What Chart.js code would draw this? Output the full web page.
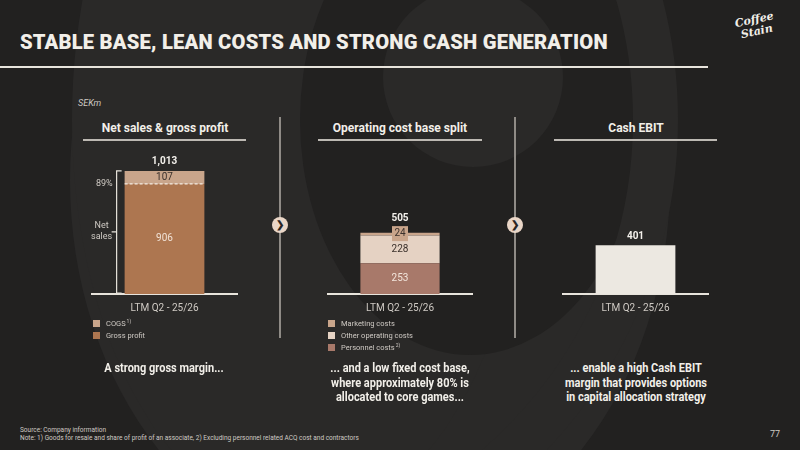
<!DOCTYPE html>
<html lang="en">
<head>
<meta charset="UTF-8">
<title>Stable base, lean costs and strong cash generation</title>
<script src="https://cdn.jsdelivr.net/npm/chart.js"></script>
<style>
  body { margin:0; width:800px; height:450px; overflow:hidden; background:#222120; position:relative;
         font-family: Roboto, 'Liberation Sans', sans-serif; color:#f2efe9; }
  .abs { position:absolute; }
  .deco { position:absolute; border-radius:50%; box-sizing:border-box; }
  #title { left:20px; top:30px; font-size:20px; font-weight:900; white-space:nowrap; transform-origin:left center; letter-spacing:0.2px; }
  .rule { position:absolute; background:#e8e4dc; }
  .head { position:absolute; width:200px; text-align:center; font-size:12px; font-weight:bold; top:121px; }
  .vsep { position:absolute; width:2px; background:#8f8b86; top:117px; height:221px; }
  .arrow { position:absolute; width:16px; height:16px; border-radius:50%; background:#ead6c7; color:#2a2523;
           font-size:10px; font-weight:bold; line-height:16px; text-align:center; }
  .legend { position:absolute; font-size:7.5px; color:#cfcac4; }
  .legend div { height:12px; line-height:12px; white-space:nowrap; }
  .legend span { display:inline-block; width:7px; height:7px; margin-right:6px; vertical-align:-1px; }
  .legend i { font-style:normal; font-size:5px; position:relative; top:-3px; margin-left:1px; }
  .caption { position:absolute; width:220px; text-align:center; font-weight:bold; font-size:12.5px; line-height:14.5px;
             top:361px; transform:scaleX(0.88); }
  canvas { position:absolute; }
</style>
</head>
<body>
  <!-- faint background artwork -->
  <div class="deco" style="left:70px; top:-200px; width:600px; height:760px; background:#2a2928;"></div>
  <div class="deco" style="left:72px; top:-280px; width:456px; height:800px; background:#2a2928;"></div>
  <div class="deco" style="left:300px; top:-115px; width:340px; height:470px; background:#222120;"></div>
  <div class="deco" style="left:383px; top:-13px; width:180px; height:180px; background:#2a2928;"></div>
  <div class="deco" style="left:-284px; top:-361px; width:962px; height:962px; border:45px solid #2a2928;"></div>

  <div id="title" class="abs">STABLE BASE, LEAN COSTS AND STRONG CASH GENERATION</div>
  <div class="rule" style="left:0; top:66px; width:708px; height:2px;"></div>
  <div class="abs" style="left:736px; top:14px; transform:rotate(-12deg); font-family:'DejaVu Serif', serif; font-style:italic; font-weight:bold; font-size:11px; line-height:12px; color:#f2efe9; text-align:center;">Coffee<br>Stain</div>

  <div class="abs" style="left:78px; top:98px; font-size:9px; font-style:italic; color:#cfcac4;">SEKm</div>

  <div class="head" style="left:65px;">Net sales &amp; gross profit</div>
  <div class="head" style="left:300px;">Operating cost base split</div>
  <div class="head" style="left:536px;">Cash EBIT</div>
  <div class="rule" style="left:83px; top:139px; width:163px; height:2px; background:#bdb9b3;"></div>
  <div class="rule" style="left:318px; top:139px; width:164px; height:2px; background:#bdb9b3;"></div>
  <div class="rule" style="left:554px; top:139px; width:163px; height:2px; background:#bdb9b3;"></div>

  <div class="vsep" style="left:279px;"></div>
  <div class="vsep" style="left:514px;"></div>
  <div class="arrow" style="left:272px; top:217px;">&#10095;</div>
  <div class="arrow" style="left:507px; top:217px;">&#10095;</div>

  <canvas id="salesChart" width="210" height="177" style="left:60px; top:150px;"></canvas>
  <canvas id="opexChart" width="200" height="177" style="left:300px; top:150px;"></canvas>
  <canvas id="ebitChart" width="190" height="177" style="left:540px; top:150px;"></canvas>

  <div class="legend" style="left:93px; top:318px;">
    <div><span style="background:#c9a58b"></span>COGS<i>1)</i></div>
    <div><span style="background:#ad7650"></span>Gross profit</div>
  </div>
  <div class="legend" style="left:328px; top:318px;">
    <div><span style="background:#c9a58b"></span>Marketing costs</div>
    <div><span style="background:#e5d2c3"></span>Other operating costs</div>
    <div><span style="background:#a8796a"></span>Personnel costs<i>2)</i></div>
  </div>

  <div class="caption" style="left:54px;">A strong gross margin...</div>
  <div class="caption" style="left:290px;">... and a low fixed cost base,<br>where approximately 80% is<br>allocated to core games...</div>
  <div class="caption" style="left:526px;">... enable a high Cash EBIT<br>margin that provides options<br>in capital allocation strategy</div>

  <div class="abs" style="left:20px; top:426px; font-size:6.5px; line-height:8px; color:#cfcac4;">
    Source: Company information<br>Note: 1) Goods for resale and share of profit of an associate, 2) Excluding personnel related ACQ cost and contractors
  </div>
  <div class="abs" style="left:770px; top:429px; font-size:9px; color:#cfcac4;">77</div>

<script>
  const category = ['LTM Q2 - 25/26'];

  const grossProfit = [906];
  const cogs = [107];
  const netSales = [1013];
  const grossMargin = ['89%'];

  const personnelCosts = [253];
  const otherOpex = [228];
  const marketingCosts = [24];
  const opexTotal = [505];

  const cashEbit = [401];

  const yMax = 1185;

  // draws the numbers inside / above the bars
  const valueLabels = {
    id: 'valueLabels',
    afterDatasetsDraw(chart, args, opts) {
      const ctx = chart.ctx;
      ctx.save();
      ctx.textAlign = 'center';
      ctx.textBaseline = 'middle';
      chart.data.datasets.forEach((ds, i) => {
        if (!ds.valueColor) return;
        chart.getDatasetMeta(i).data.forEach((bar, j) => {
          ctx.font = '10px Roboto';
          let y = (bar.y + bar.base) / 2;
          if (ds.boxLabel) {
            y = bar.y + 1;
            ctx.fillStyle = ds.backgroundColor;
            ctx.fillRect(bar.x - 8, y - 7.5, 16, 15);
          }
          ctx.fillStyle = ds.valueColor;
          ctx.fillText(ds.data[j].toLocaleString('en-US'), bar.x, y);
        });
      });
      if (opts.totals) {
        const bar = chart.getDatasetMeta(0).data[0];
        const y = chart.scales.y.getPixelForValue(opts.totals[0]);
        ctx.font = 'bold 10px Roboto';
        ctx.fillStyle = '#f4f1ec';
        ctx.fillText(opts.totals[0].toLocaleString('en-US'), bar.x, y - (opts.totalOffset || 9));
      }
      ctx.restore();
    }
  };

  // bracket, dashed margin line and its labels on the first chart
  const marginBracket = {
    id: 'marginBracket',
    afterDatasetsDraw(chart, args, opts) {
      if (!opts.enabled) return;
      const ctx = chart.ctx;
      const y = chart.scales.y;
      const bar = chart.getDatasetMeta(0).data[0];
      const left = bar.x - bar.width / 2;
      const right = bar.x + bar.width / 2;
      const top = y.getPixelForValue(netSales[0]);
      const bottom = y.getPixelForValue(0) - 1;
      const split = y.getPixelForValue(grossProfit[0]);
      const bx = left - 8;
      ctx.save();
      ctx.strokeStyle = '#e8e4dc';
      ctx.lineWidth = 1.2;
      ctx.beginPath();
      ctx.moveTo(bx + 5, top); ctx.lineTo(bx, top); ctx.lineTo(bx, bottom); ctx.lineTo(bx + 5, bottom);
      const mid = (top + bottom) / 2;
      ctx.moveTo(bx, mid); ctx.lineTo(bx - 5, mid);
      ctx.stroke();

      ctx.setLineDash([3, 2]);
      ctx.strokeStyle = '#f4ece4';
      ctx.beginPath();
      ctx.moveTo(left, split); ctx.lineTo(right, split);
      ctx.stroke();
      ctx.setLineDash([]);

      ctx.font = '9px Roboto';
      ctx.fillStyle = '#cfcac4';
      ctx.textAlign = 'right';
      ctx.textBaseline = 'middle';
      ctx.fillText(grossMargin[0], bx - 4, split);
      ctx.textAlign = 'center';
      ctx.fillText('Net', bx - 15, mid - 6);
      ctx.fillText('sales', bx - 15, mid + 5);
      ctx.restore();
    }
  };

  function makeChart(id, datasets, pad, pluginOpts) {
    return new Chart(document.getElementById(id), {
      type: 'bar',
      data: { labels: category, datasets: datasets },
      options: {
        responsive: false,
        animation: false,
        layout: { padding: { left: pad[0], right: pad[1], top: 0, bottom: 5 } },
        datasets: { bar: { barPercentage: 0.55, categoryPercentage: 1 } },
        scales: {
          x: {
            stacked: true,
            grid: { display: false, drawTicks: false },
            border: { color: '#e8e4dc', width: 2 },
            ticks: { color: '#cfcac4', font: { family: 'Roboto', size: 10 }, padding: 8 }
          },
          y: { stacked: true, display: false, min: 0, max: yMax }
        },
        plugins: {
          legend: { display: false },
          tooltip: { enabled: false },
          valueLabels: pluginOpts,
          marginBracket: { enabled: !!pluginOpts.bracket }
        }
      },
      plugins: [valueLabels, marginBracket]
    });
  }

  makeChart('salesChart', [
    { label: 'Gross profit', data: grossProfit, backgroundColor: '#ad7650', valueColor: '#f1e2d6' },
    { label: 'COGS', data: cogs, backgroundColor: '#c9a58b', valueColor: '#3a302b' }
  ], [32, 33], { totals: netSales, bracket: true });

  makeChart('opexChart', [
    { label: 'Personnel costs', data: personnelCosts, backgroundColor: '#a8796a', valueColor: '#f3e6dc' },
    { label: 'Other operating costs', data: otherOpex, backgroundColor: '#e5d2c3', valueColor: '#3a302b' },
    { label: 'Marketing costs', data: marketingCosts, backgroundColor: '#c9a58b', valueColor: '#3a302b', boxLabel: true }
  ], [28, 28], { totals: opexTotal, totalOffset: 14 });

  makeChart('ebitChart', [
    { label: 'Cash EBIT', data: cashEbit, backgroundColor: '#ece8e1' }
  ], [23, 22], { totals: cashEbit });

  // squeeze the headline to the width it has on the slide
  const title = document.getElementById('title');
  title.style.transform = 'scaleX(' + (588 / title.offsetWidth) + ')';
</script>
</body>
</html>
